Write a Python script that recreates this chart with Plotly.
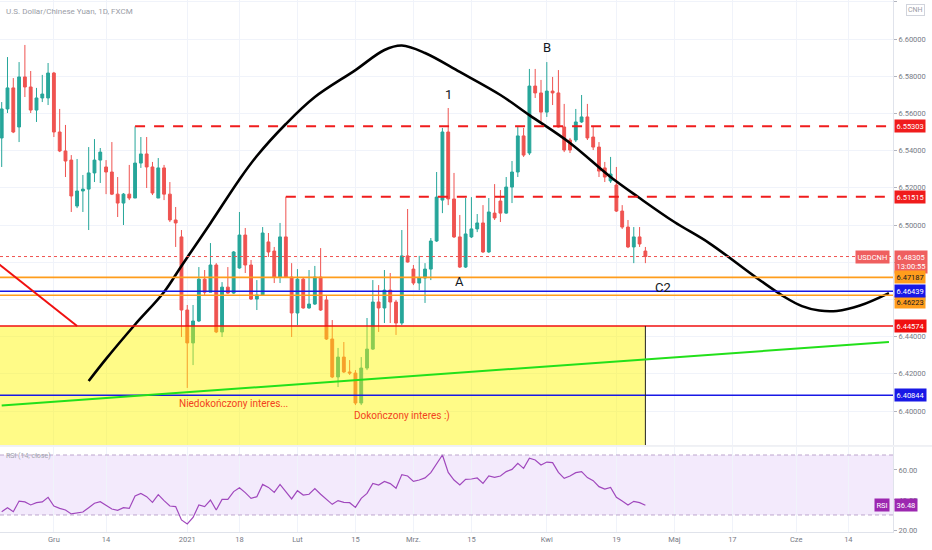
import pandas as pd
import plotly.graph_objects as go

# ---------------- data ----------------
holidays = ["2020-12-25", "2021-01-01"]
dates = [d.strftime("%Y-%m-%d") for d in pd.bdate_range("2020-11-18", "2021-04-26")
         if d.strftime("%Y-%m-%d") not in holidays]

opens = [6.5468, 6.5624, 6.5737, 6.5527, 6.5796, 6.5742, 6.5618, 6.5683, 6.5683, 6.5817,
         6.5500, 6.5398, 6.5349, 6.5102, 6.5183, 6.5193, 6.5280, 6.5349, 6.5312, 6.5285,
         6.5166, 6.5118, 6.5166, 6.5145, 6.5333, 6.5382, 6.5312, 6.5145, 6.5307, 6.5166,
         6.5027, 6.4936, 6.4543, 6.4366, 6.4484, 6.4709, 6.4639, 6.4785, 6.4425, 6.4666,
         6.4634, 6.4769, 6.4946, 6.4785, 6.4602, 6.4624, 6.4909, 6.4860, 6.4720, 6.4936,
         6.4720, 6.4527, 6.4709, 6.4554, 6.4575, 6.4720, 6.4597, 6.4387, 6.4183, 6.4290,
         6.4210, 6.4204, 6.4043, 6.4231, 6.4333, 6.4586, 6.4554, 6.4650, 6.4586, 6.4473,
         6.4834, 6.4763, 6.4688, 6.4715, 6.4763, 6.4914, 6.5134, 6.5500, 6.5140, 6.4936,
         6.4774, 6.4936, 6.4979, 6.5011, 6.4855, 6.5064, 6.5129, 6.5064, 6.5204, 6.5285,
         6.5479, 6.5387, 6.5747, 6.5710, 6.5607, 6.5720, 6.5710, 6.5527, 6.5457, 6.5457,
         6.5554, 6.5581, 6.5473, 6.5419, 6.5307, 6.5237, 6.5215, 6.5075, 6.4989, 6.4882,
         6.4936, 6.4860]
highs = [6.5661, 6.5903, 6.5790, 6.5876, 6.5968, 6.5828, 6.5737, 6.5807, 6.5871, 6.5823,
         6.5624, 6.5538, 6.5376, 6.5355, 6.5269, 6.5419, 6.5462, 6.5414, 6.5349, 6.5446,
         6.5258, 6.5172, 6.5323, 6.5530, 6.5473, 6.5473, 6.5339, 6.5360, 6.5323, 6.5231,
         6.5097, 6.4973, 6.4570, 6.4570, 6.4774, 6.4758, 6.4903, 6.4795, 6.4693, 6.4774,
         6.4860, 6.5070, 6.4984, 6.4812, 6.4704, 6.4989, 6.4957, 6.4882, 6.5011, 6.5152,
         6.4795, 6.4763, 6.4720, 6.4758, 6.4780, 6.4876, 6.4624, 6.4489, 6.4339, 6.4371,
         6.4274, 6.4220, 6.4290, 6.4500, 6.4704, 6.4677, 6.4758, 6.4742, 6.4597, 6.4973,
         6.5086, 6.4785, 6.4834, 6.4795, 6.4930, 6.5285, 6.5522, 6.5629, 6.5280, 6.5054,
         6.5145, 6.5150, 6.5059, 6.5107, 6.5145, 6.5220, 6.5188, 6.5258, 6.5344, 6.5527,
         6.5522, 6.5839, 6.5839, 6.5780, 6.5876, 6.5796, 6.5833, 6.5651, 6.5468, 6.5624,
         6.5699, 6.5651, 6.5527, 6.5446, 6.5339, 6.5366, 6.5312, 6.5107, 6.5027, 6.4989,
         6.4989, 6.4882]
lows = [6.5312, 6.5602, 6.5494, 6.5446, 6.5688, 6.5602, 6.5554, 6.5661, 6.5645, 6.5473,
        6.5392, 6.5258, 6.5070, 6.5091, 6.5070, 6.4973, 6.5231, 6.5226, 6.5166, 6.5161,
        6.5043, 6.5000, 6.5134, 6.5145, 6.5307, 6.5199, 6.5161, 6.5145, 6.5134, 6.5016,
        6.4882, 6.4398, 6.4124, 6.4247, 6.4479, 6.4624, 6.4639, 6.4419, 6.4398, 6.4630,
        6.4630, 6.4765, 6.4742, 6.4597, 6.4543, 6.4620, 6.4828, 6.4688, 6.4688, 6.4715,
        6.4398, 6.4462, 6.4550, 6.4550, 6.4570, 6.4538, 6.4382, 6.4177, 6.4129, 6.4204,
        6.4194, 6.4032, 6.4032, 6.4220, 6.4328, 6.4425, 6.4473, 6.4473, 6.4409, 6.4462,
        6.4798, 6.4677, 6.4650, 6.4581, 6.4704, 6.4909, 6.5064, 6.5107, 6.4930, 6.4769,
        6.4769, 6.4930, 6.4962, 6.4850, 6.4850, 6.5027, 6.5016, 6.5060, 6.5118, 6.5258,
        6.5366, 6.5376, 6.5683, 6.5554, 6.5581, 6.5645, 6.5524, 6.5392, 6.5387, 6.5446,
        6.5549, 6.5457, 6.5403, 6.5258, 6.5231, 6.5226, 6.5070, 6.4979, 6.4876, 6.4795,
        6.4882, 6.4795]
closes = [6.5624, 6.5737, 6.5500, 6.5796, 6.5742, 6.5618, 6.5683, 6.5704, 6.5817, 6.5500,
          6.5398, 6.5344, 6.5156, 6.5183, 6.5193, 6.5280, 6.5349, 6.5392, 6.5285, 6.5166,
          6.5118, 6.5166, 6.5145, 6.5333, 6.5382, 6.5312, 6.5172, 6.5307, 6.5166, 6.5027,
          6.5011, 6.4543, 6.4366, 6.4484, 6.4709, 6.4639, 6.4785, 6.4425, 6.4666, 6.4634,
          6.4855, 6.4946, 6.4785, 6.4602, 6.4624, 6.4957, 6.4855, 6.4720, 6.4936, 6.4720,
          6.4527, 6.4709, 6.4554, 6.4575, 6.4720, 6.4543, 6.4387, 6.4183, 6.4290, 6.4210,
          6.4204, 6.4043, 6.4231, 6.4333, 6.4586, 6.4554, 6.4650, 6.4586, 6.4473, 6.4834,
          6.4801, 6.4688, 6.4715, 6.4763, 6.4914, 6.5150, 6.5500, 6.5140, 6.4936, 6.4774,
          6.4952, 6.4979, 6.5011, 6.4855, 6.5070, 6.5038, 6.5064, 6.5204, 6.5285, 6.5479,
          6.5376, 6.5747, 6.5710, 6.5607, 6.5720, 6.5710, 6.5527, 6.5403, 6.5403, 6.5554,
          6.5581, 6.5468, 6.5419, 6.5290, 6.5258, 6.5274, 6.5075, 6.4989, 6.4882, 6.4936,
          6.4898, 6.48305]

rsi = [32.2, 34.9, 32.2, 39.3, 38.7, 36.7, 38.2, 38.7, 41.8, 36.0,
       34.4, 33.3, 30.7, 31.6, 32.0, 34.9, 37.8, 38.9, 36.7, 34.0,
       33.1, 34.9, 34.4, 42.7, 44.4, 42.2, 38.4, 43.6, 39.6, 36.0,
       35.6, 26.7, 24.0, 28.4, 36.7, 35.6, 40.0, 33.3, 40.4, 40.4,
       45.6, 48.2, 44.9, 41.1, 42.2, 50.4, 48.4, 45.1, 50.4, 45.6,
       40.7, 46.2, 43.3, 43.8, 47.6, 43.8, 40.4, 37.1, 39.6, 38.4,
       38.2, 35.1, 41.1, 44.4, 51.1, 50.0, 52.4, 50.9, 47.8, 56.9,
       56.0, 52.4, 53.3, 54.7, 58.2, 64.0, 70.0, 58.4, 53.3, 50.0,
       53.8, 54.0, 54.7, 51.1, 56.0, 55.1, 56.0, 58.9, 60.4, 64.4,
       61.1, 67.8, 66.7, 63.3, 65.3, 64.9, 58.4, 54.4, 56.0, 58.2,
       58.9, 54.9, 52.9, 48.9, 47.3, 48.4, 41.8, 39.3, 36.7, 39.1,
       38.2, 36.48]

# hand-drawn curve (date, price)
curve_dates = ["2020-12-09", "2020-12-14", "2020-12-21", "2020-12-29", "2021-01-04",
               "2021-01-11", "2021-01-18", "2021-01-21", "2021-01-28", "2021-02-04",
               "2021-02-15", "2021-02-22", "2021-02-25", "2021-03-03", "2021-03-11",
               "2021-03-22", "2021-03-29", "2021-04-07", "2021-04-16", "2021-04-23",
               "2021-05-03", "2021-05-11", "2021-05-21", "2021-05-28", "2021-06-02",
               "2021-06-07", "2021-06-10", "2021-06-16", "2021-06-23"]
curve_prices = [6.4161, 6.4280, 6.4465, 6.4640, 6.4780,
                6.5010, 6.5245, 6.5371, 6.5543, 6.5688,
                6.5833, 6.5941, 6.5965, 6.5925, 6.5823,
                6.5699, 6.5591, 6.5441, 6.5258, 6.5145,
                6.5016, 6.4903, 6.4720, 6.4613, 6.4564,
                6.4540, 6.4538, 6.4567, 6.4634]

# horizontal levels
resist_prices = [6.55303, 6.51515]
resist_start = ["2020-12-21", "2021-01-28"]
orange_levels = [6.47187, 6.46223]
blue_levels = [6.46439, 6.40844]
red_level = 6.44574
last_price = 6.48305
last_rsi = 36.48

# trend lines (date, price)
green_line_dates = ["2020-11-18", "2021-06-23"]
green_line_prices = [6.4030, 6.4371]
red_diag_dates = ["2020-11-17", "2020-12-07"]
red_diag_prices = [6.4802, 6.44574]

box_end = "2021-04-26"

tick_dates = ["2020-12-01", "2020-12-14", "2021-01-05", "2021-01-18", "2021-02-01",
              "2021-02-15", "2021-03-01", "2021-03-15", "2021-04-01", "2021-04-19",
              "2021-05-03", "2021-05-17", "2021-06-01", "2021-06-14"]
tick_labels = ["Gru", "14", "2021", "18", "Lut", "15", "Mrz.", "15", "Kwi", "19",
               "Maj", "17", "Cze", "14"]

labels_text = ["1", "B", "A", "C2"]
labels_dates = ["2021-03-09", "2021-04-01", "2021-03-11", "2021-04-29"]
labels_prices = [6.5699, 6.5952, 6.4699, 6.4666]

notes_text = ["Niedokończony interes...", "Dokończony interes :)"]
notes_dates = ["2021-01-15", "2021-02-25"]
notes_prices = [6.4040, 6.3973]

# ---------------- styling ----------------
UP, DOWN = "#26a69a", "#ef5350"
GRID = "#f0f3fa"
AXIS = "#e0e3eb"
TXT = "#787b86"
FONT = "Roboto"
x_range = ["2020-11-17 17:00", "2021-06-23 16:48"]
y_range = [6.38172, 6.62097]
rsi_range = [18.67, 75.33]
rb = [dict(bounds=["sat", "mon"]), dict(values=holidays)]

fig = go.Figure()

fig.add_trace(go.Candlestick(
    x=dates, open=opens, high=highs, low=lows, close=closes,
    increasing=dict(line=dict(color=UP, width=1), fillcolor=UP),
    decreasing=dict(line=dict(color=DOWN, width=1), fillcolor=DOWN),
    whiskerwidth=0, xaxis="x", yaxis="y", showlegend=False, hoverinfo="skip"))

# yellow zone (semi-transparent, over the candles)
fig.add_trace(go.Scatter(
    x=["2020-11-02", box_end, box_end, "2020-11-02", "2020-11-02"],
    y=[red_level, red_level, 6.30, 6.30, red_level],
    fill="toself", fillcolor="rgba(255,246,0,0.47)", mode="lines",
    line=dict(width=0), xaxis="x", yaxis="y", showlegend=False, hoverinfo="skip"))

fig.add_trace(go.Scatter(
    x=curve_dates, y=curve_prices, mode="lines",
    line=dict(color="black", width=2.6, shape="spline", smoothing=1.0),
    xaxis="x", yaxis="y", showlegend=False, hoverinfo="skip"))

fig.add_trace(go.Scatter(
    x=dates, y=rsi, mode="lines", line=dict(color="#a048bd", width=1.2),
    xaxis="x2", yaxis="y2", showlegend=False, hoverinfo="skip"))

shapes = []
# RSI band
shapes.append(dict(type="rect", xref="paper", yref="y2", x0=0, x1=1, y0=30, y1=70,
                   fillcolor="rgba(160,80,230,0.12)", line=dict(width=0), layer="below"))
for lv in (70, 30):
    shapes.append(dict(type="line", xref="paper", yref="y2", x0=0, x1=1, y0=lv, y1=lv,
                       line=dict(color="rgba(170,140,190,0.75)", width=1, dash="4px,3px")))
# pane separator
shapes.append(dict(type="line", xref="paper", yref="paper", x0=0, x1=1.05,
                   y0=0.1617, y1=0.1617, line=dict(color=AXIS, width=1)))
# last price dotted
shapes.append(dict(type="line", xref="paper", yref="y", x0=0, x1=1, y0=last_price,
                   y1=last_price, line=dict(color=DOWN, width=1, dash="dot"), layer="above"))
# levels
for p, d0 in zip(resist_prices, resist_start):
    shapes.append(dict(type="line", xref="x", yref="y", x0=d0, x1="2021-07-15", y0=p, y1=p,
                       line=dict(color="#f01c1c", width=2, dash="10px,9px"), layer="above"))
for p in orange_levels:
    shapes.append(dict(type="line", xref="paper", yref="y", x0=0, x1=1, y0=p, y1=p,
                       line=dict(color="#ff9d1c", width=1.6), layer="above"))
for p in blue_levels:
    shapes.append(dict(type="line", xref="paper", yref="y", x0=0, x1=1, y0=p, y1=p,
                       line=dict(color="#1818e6", width=1.4), layer="above"))
shapes.append(dict(type="line", xref="paper", yref="y", x0=0, x1=1, y0=red_level, y1=red_level,
                   line=dict(color="#f01010", width=1.4), layer="above"))
shapes.append(dict(type="line", xref="x", yref="y", x0=box_end, x1=box_end, y0=red_level,
                   y1=y_range[0], line=dict(color="#222", width=1), layer="above"))
shapes.append(dict(type="line", xref="x", yref="y", x0=green_line_dates[0], x1=green_line_dates[1],
                   y0=green_line_prices[0], y1=green_line_prices[1],
                   line=dict(color="#22e01a", width=2), layer="above"))
shapes.append(dict(type="line", xref="x", yref="y", x0=red_diag_dates[0], x1=red_diag_dates[1],
                   y0=red_diag_prices[0], y1=red_diag_prices[1],
                   line=dict(color="#f01010", width=2), layer="above"))

ann = []
ann.append(dict(xref="paper", yref="paper", x=0, y=1, xshift=4, yshift=-11, xanchor="left",
                yanchor="middle", text="U.S. Dollar/Chinese Yuan, 1D, FXCM", showarrow=False,
                font=dict(family=FONT, size=8, color="#9a9da6")))
ann.append(dict(xref="paper", yref="y2", x=0, y=69.3, xshift=4, xanchor="left", yanchor="middle",
                text="RSI (14, close)", showarrow=False,
                font=dict(family=FONT, size=7, color="#a0a3ab")))
for t, d, p in zip(labels_text, labels_dates, labels_prices):
    ann.append(dict(xref="x", yref="y", x=d, y=p, text=t, showarrow=False,
                    font=dict(family=FONT, size=13, color="#131722")))
for t, d, p in zip(notes_text, notes_dates, notes_prices):
    ann.append(dict(xref="x", yref="y", x=d, y=p, text=t, showarrow=False,
                    font=dict(family=FONT, size=10, color="#f2431d")))


def tag(y, text, bg, fg="white", yref="y", yshift=0, right=False):
    return dict(xref="paper", yref=yref, x=1, y=y, xshift=(-3 if right else 1), yshift=yshift,
                xanchor=("right" if right else "left"), yanchor="middle", text=text,
                showarrow=False, bgcolor=bg, borderpad=1.5,
                font=dict(family=FONT, size=7.5, color=fg))


for p in resist_prices:
    ann.append(tag(p, f"{p:.5f}", "#f01c1c"))
ann.append(tag(last_price, f"{last_price:.5f}<br>13:00:55", "#ef5f5f", yshift=-5))
ann.append(tag(last_price, "USDCNH", "#ef5f5f", right=True))
ann.append(tag(orange_levels[0], f"{orange_levels[0]:.5f}", "#ff9d1c", fg="#131722"))
ann.append(tag(orange_levels[1], f"{orange_levels[1]:.5f}", "#ff9d1c", fg="#131722", yshift=-7))
for p in blue_levels:
    ann.append(tag(p, f"{p:.5f}", "#1818e6"))
ann.append(tag(red_level, f"{red_level:.5f}", "#f01010"))
ann.append(tag(last_rsi, f"{last_rsi:.2f}", "#9c27b0", yref="y2"))
ann.append(tag(last_rsi, "RSI", "#9c27b0", yref="y2", right=True))
ann.append(dict(xref="paper", yref="paper", x=1, y=1, xshift=22, yshift=-10, xanchor="center",
                yanchor="middle", text="CNH", showarrow=False, bgcolor="white",
                bordercolor="#d1d4dc", borderwidth=1, borderpad=1,
                font=dict(family=FONT, size=7, color="#9a9da6")))

fig.update_layout(
    width=932, height=550, margin=dict(l=0, r=39, t=0, b=18),
    paper_bgcolor="white", plot_bgcolor="white", showlegend=False,
    font=dict(family=FONT, size=7.5, color=TXT),
    shapes=shapes, annotations=ann, hovermode=False,
    xaxis=dict(domain=[0, 1], anchor="y", range=x_range, rangebreaks=rb,
               tickvals=tick_dates, ticktext=tick_labels, showticklabels=False,
               showgrid=True, gridcolor=GRID, zeroline=False, showline=False,
               rangeslider=dict(visible=False), automargin=False, matches="x2"),
    xaxis2=dict(domain=[0, 1], anchor="y2", range=x_range, rangebreaks=rb,
                tickvals=tick_dates, ticktext=tick_labels, showgrid=True, gridcolor=GRID,
                zeroline=False, showline=True, linecolor=AXIS, ticks="",
                tickfont=dict(family=FONT, size=7.5, color=TXT), automargin=False),
    yaxis=dict(domain=[0.1635, 1], anchor="x", side="right", range=y_range,
               tick0=6.40, dtick=0.02, tickformat=".5f", showgrid=True, gridcolor=GRID,
               zeroline=False, showline=True, linecolor=AXIS, ticks="outside", ticklen=3,
               tickcolor="#b2b5be", tickfont=dict(family=FONT, size=7.5, color=TXT),
               automargin=False),
    yaxis2=dict(domain=[0, 0.1598], anchor="x2", side="right", range=rsi_range,
                tickvals=[20, 40, 60], ticktext=["20.00", "40.00", "60.00"], showgrid=False,
                zeroline=False, showline=True, linecolor=AXIS, ticks="outside", ticklen=3,
                tickcolor="#b2b5be", tickfont=dict(family=FONT, size=7.5, color=TXT),
                automargin=False),
)

fig.write_html("out.html", config={"displayModeBar": False},
               post_script="document.body.style.margin='0';document.body.style.overflow='hidden';")
